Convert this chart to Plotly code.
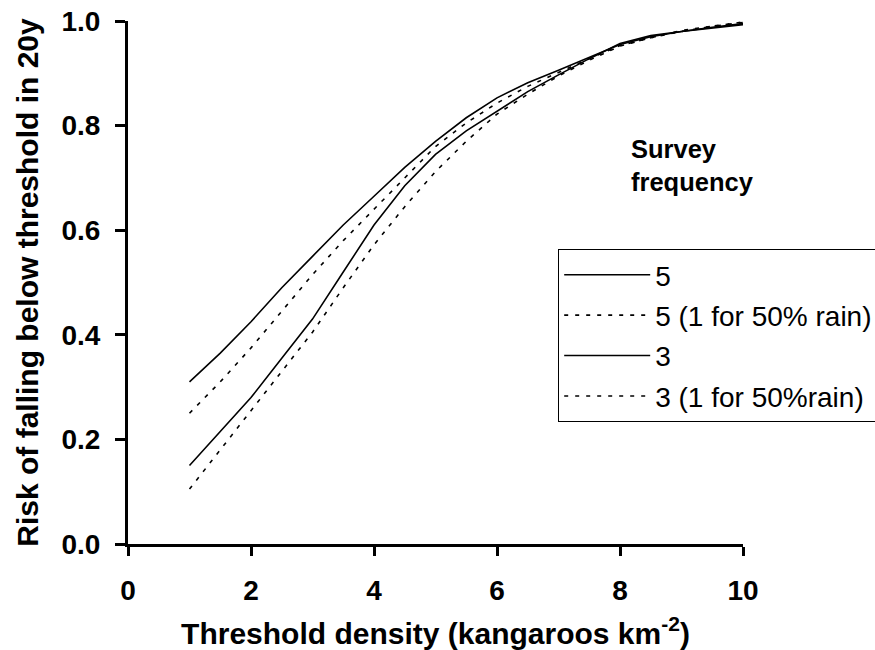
import plotly.graph_objects as go

# Threshold densities (kangaroos per km^2)
density = [1, 1.5, 2, 2.5, 3, 3.5, 4, 4.5, 5, 5.5, 6, 6.5, 7, 7.5, 8, 8.5, 9, 9.5, 10]

# Risk of falling below threshold within 20 years, by survey frequency
risk_5 = [0.31, 0.365, 0.425, 0.49, 0.55, 0.61, 0.665, 0.72, 0.77, 0.815, 0.853,
          0.882, 0.906, 0.93, 0.955, 0.97, 0.98, 0.988, 0.995]
risk_5_rain = [0.25, 0.31, 0.375, 0.445, 0.515, 0.58, 0.64, 0.70, 0.76, 0.805, 0.843,
               0.875, 0.902, 0.928, 0.953, 0.968, 0.98, 0.99, 0.998]
risk_3 = [0.15, 0.215, 0.28, 0.355, 0.43, 0.52, 0.61, 0.685, 0.745, 0.79, 0.828,
          0.865, 0.897, 0.928, 0.957, 0.972, 0.98, 0.987, 0.993]
risk_3_rain = [0.105, 0.18, 0.255, 0.33, 0.405, 0.49, 0.572, 0.645, 0.712, 0.77, 0.822,
               0.86, 0.895, 0.925, 0.952, 0.968, 0.982, 0.99, 0.997]

series_names = ["5", "5 (1 for 50% rain)", "3", "3 (1 for 50%rain)"]
series_values = [risk_5, risk_5_rain, risk_3, risk_3_rain]
series_dash = ["solid", "4px,7px", "solid", "4px,7px"]

FONT = "Liberation Sans, Arial, sans-serif"

fig = go.Figure()
for i, (name, vals, dash) in enumerate(zip(series_names, series_values, series_dash)):
    fig.add_trace(go.Scatter(
        x=density, y=vals, mode="lines", name=name,
        legendgroup=f"g{i}",
        line=dict(color="black", width=1.6, dash=dash),
    ))

fig.update_layout(
    width=875, height=650,
    margin=dict(l=128, r=132, t=21, b=106, autoexpand=False),
    plot_bgcolor="white", paper_bgcolor="white",
    font=dict(family=FONT, color="black"),
    showlegend=True,
    legend=dict(
        x=0.6995, y=0.564, xanchor="left", yanchor="top",
        bordercolor="black", borderwidth=1,
        font=dict(family=FONT, size=28, color="black"),
        itemwidth=86, traceorder="grouped", tracegroupgap=1,
        bgcolor="white",
    ),
    annotations=[dict(
        text="<b>Survey<br>frequency</b>", x=0.815, y=0.723,
        xref="paper", yref="paper", showarrow=False, align="left",
        xanchor="left", yanchor="middle",
        font=dict(family=FONT, size=25.5, color="black"),
    )],
)

fig.update_xaxes(
    range=[0, 10], tickvals=[0, 2, 4, 6, 8, 10],
    showline=True, linecolor="black", linewidth=3,
    ticks="outside", ticklen=9, tickwidth=3, tickcolor="black",
    ticklabelstandoff=10, automargin=False,
    showgrid=False, zeroline=False,
    tickfont=dict(family=FONT, size=28, color="black", weight="bold"),
    title=dict(text="<b>Threshold density (kangaroos km<sup>-2</sup>)</b>",
               font=dict(family=FONT, size=30, color="black"), standoff=21),
)
fig.update_yaxes(
    range=[0, 1], tickvals=[0, 0.2, 0.4, 0.6, 0.8, 1.0], tickformat=".1f",
    showline=True, linecolor="black", linewidth=3,
    ticks="outside", ticklen=10, tickwidth=3, tickcolor="black",
    ticklabelstandoff=9, automargin=False,
    showgrid=False, zeroline=False,
    tickfont=dict(family=FONT, size=28, color="black", weight="bold"),
    title=dict(text="<b>Risk of falling below threshold in 20y</b>",
               font=dict(family=FONT, size=30, color="black"), standoff=14),
)

fig.write_html("out.html")
